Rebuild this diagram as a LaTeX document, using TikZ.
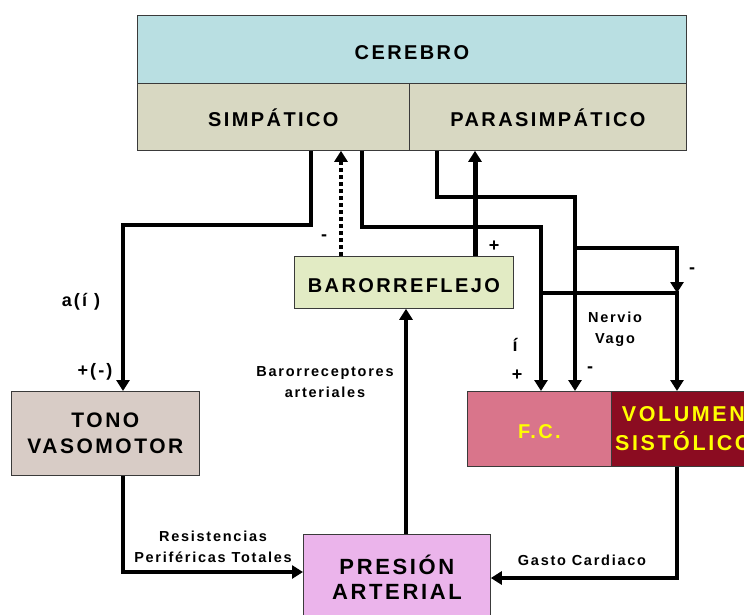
\documentclass[tikz,border=0pt]{standalone}
\usepackage{fontspec}
\setmainfont{Liberation Sans}[LetterSpace=12]
\usetikzlibrary{arrows.meta}
\definecolor{cerebrofill}{HTML}{B9DFE2}
\definecolor{nervfill}{HTML}{D8D8C2}
\definecolor{barofill}{HTML}{E2EBC4}
\definecolor{tonofill}{HTML}{D8CCC6}
\definecolor{presfill}{HTML}{EBB4EB}
\definecolor{fcfill}{HTML}{D9758B}
\definecolor{volfill}{HTML}{8B0C21}
\definecolor{boxline}{HTML}{3A3A3A}
\definecolor{txtyellow}{HTML}{FFFF00}
\begin{document}
\begin{tikzpicture}[x=1pt,y=-1pt,
  box/.style={draw=boxline, line width=0.8pt, inner sep=0pt, anchor=north west,
    align=center, font=\bfseries\fontsize{20}{26}\selectfont},
  oneline/.style={text height=20pt, text depth=0pt},
  conn/.style={line width=4pt, -{Triangle[width=13pt,length=11pt]}},
  small/.style={inner sep=0pt, align=center, font=\bfseries\fontsize{14.5}{21}\selectfont},
  sign/.style={inner sep=0pt, font=\bfseries\fontsize{18}{20}\selectfont}]
\useasboundingbox (0,0) rectangle (744,614);
\clip (0,0) rectangle (744,614);

% boxes
\node[box, oneline, fill=cerebrofill, minimum width=549pt, minimum height=68pt, font=\bfseries\fontsize{20}{24}\selectfont] (cer) at (137,15) {CEREBRO};
\node[box, oneline, fill=nervfill, minimum width=272pt, minimum height=67pt] (sim) at (137,83) {SIMPÁTICO};
\node[box, oneline, fill=nervfill, minimum width=277pt, minimum height=67pt] (par) at (409,83) {PARASIMPÁTICO};
\node[box, oneline, fill=barofill, minimum width=219pt, minimum height=52pt] (bar) at (294,256) {BARORREFLEJO};
\node[box, fill=tonofill, minimum width=188pt, minimum height=84pt, font=\bfseries\fontsize{21}{26}\selectfont] (tono) at (11,391) {TONO\\VASOMOTOR};
\node[box, oneline, fill=fcfill, minimum width=144pt, minimum height=75pt, text=txtyellow] (fc) at (467,391) {F.C.};
\node[box, fill=volfill, minimum width=144pt, minimum height=75pt, text=txtyellow, font=\bfseries\fontsize{21.5}{29}\selectfont] (vol) at (611,391) {VOLUMEN\\SISTÓLICO};
\node[box, fill=presfill, minimum width=187pt, minimum height=86pt, font=\bfseries\fontsize{22}{25}\selectfont] (pres) at (303,534) {PRESIÓN\\ARTERIAL};

% sympathetic outflow
\draw[conn] (311,0 |- sim.south) -- (311,225) -| (123,0 |- tono.north);
\draw[conn] (362,0 |- sim.south) -- (362,227) -| (541,0 |- fc.north);
\coordinate (symjoin) at (541,293);
\draw[conn] (symjoin) -| (677,0 |- vol.north);

% parasympathetic outflow (vagus)
\draw[conn, line width=4.5pt] (437,0 |- par.south) |- (575,197) -- (575,0 |- fc.north);
\coordinate (vagsplit) at (575,248);
\coordinate (vagend) at (677,293);
\draw[conn] (vagsplit) -| (vagend);

% baroreflex feedback
\draw[conn, dash pattern=on 4pt off 3pt] (341,0 |- bar.north) -- (341,0 |- sim.south);
\draw[conn, line width=5pt] (475,0 |- bar.north) -- (475,0 |- par.south);
\draw[conn] (406,0 |- pres.north) -- (406,0 |- bar.south);

% effectors to pressure
\draw[conn] (123,0 |- tono.south) |- (pres.west |- 0,572);
\draw[conn] (677,0 |- vol.south) |- (pres.east |- 0,578);

% labels
\node[sign] (sminus) at (324,238) {-};
\node[sign] (pplus) at (494,246) {+};
\node[sign] (vminus) at (692,271) {-};
\node[sign] (fcminus) at (590,370) {-};
\node[sign] (fcacc) at (515,345) {í};
\node[sign] (fcplus) at (517,375) {+};
\node[sign] (alpha) at (81,302) {a(í )};
\node[sign] (tplus) at (95,372) {+(-)};
\node[small] (vago) at (615,329) {Nervio\\Vago};
\node[small] (baro) at (325,382) {Barorreceptores\\arteriales};
\node[small] (rpt) at (213,547) {Resistencias\\Periféricas Totales};
\node[small] (gc) at (582,560) {Gasto Cardiaco};
\end{tikzpicture}
\end{document}
